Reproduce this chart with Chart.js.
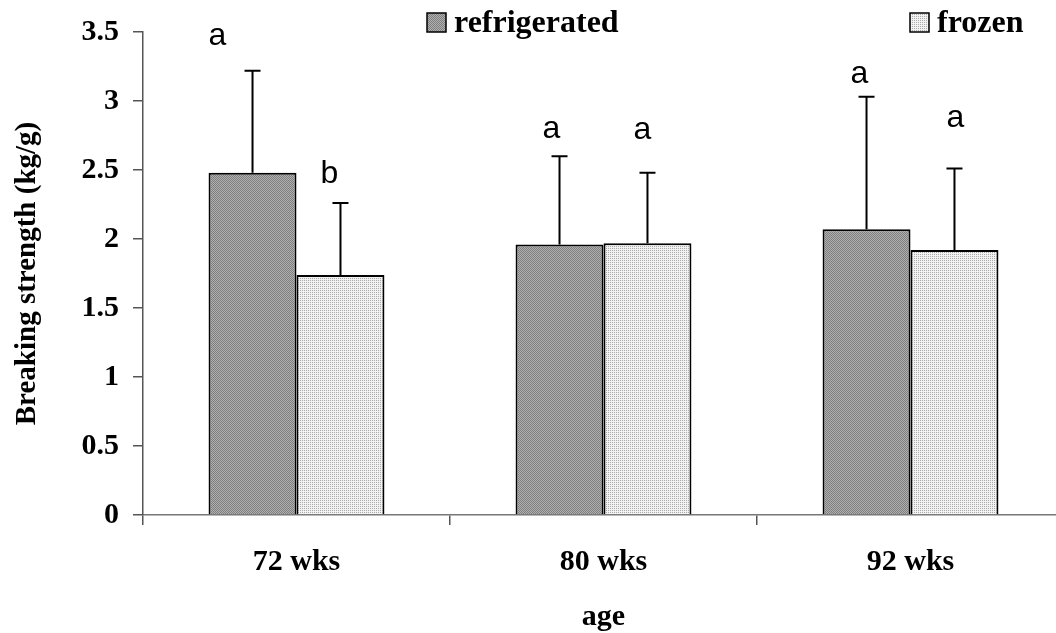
<!DOCTYPE html>
<html>
<head>
<meta charset="utf-8">
<script src="https://cdn.jsdelivr.net/npm/chart.js@4"></script>
<style>
body{margin:0;background:#fff;overflow:hidden}
#wrap{width:1056px;height:633px;overflow:hidden}
</style>
</head>
<body>
<div id="wrap"><canvas id="breaking" width="1070" height="633"></canvas></div>
<script>
var ages = ["72 wks", "80 wks", "92 wks"];
var refrigerated = [2.48, 1.96, 2.07];
var frozen = [1.74, 1.97, 1.92];
// top of the error bar for each mean
var refrigeratedErr = [3.22, 2.60, 3.03];
var frozenErr = [2.26, 2.48, 2.51];
// significance letters
var refrigeratedSig = ["a", "a", "a"];
var frozenSig = ["b", "a", "a"];
var yTicks = [0, 0.5, 1, 1.5, 2, 2.5, 3, 3.5];

var serif = "'Liberation Serif', 'Times New Roman', serif";
var sans = "'Liberation Sans', Arial, sans-serif";

function makePattern(base, dot, cells) {
	var c = document.createElement("canvas");
	c.width = 4; c.height = 4;
	var g = c.getContext("2d");
	g.fillStyle = base;
	g.fillRect(0, 0, 4, 4);
	g.fillStyle = dot;
	cells.forEach(function (p) { g.fillRect(p[0], p[1], 1, 1); });
	return g.createPattern(c, "repeat");
}

var ctx = document.getElementById("breaking").getContext("2d");
var darkFill = makePattern("#b0b0b0", "#7e7e7e", [[0,0],[1,1],[2,2],[3,3],[2,0],[3,1],[0,2],[1,3]]);
var lightFill = makePattern("#f2f2f2", "#aaaaaa", [[0,0],[2,2],[2,0],[0,2]]);

// upper error bars, drawn from the bar top to the stored value
var errorBars = {
	id: "errorBars",
	afterDatasetsDraw: function (chart) {
		var c = chart.ctx, y = chart.scales.y;
		var tops = [refrigeratedErr, frozenErr];
		c.save();
		c.strokeStyle = "#000";
		c.lineWidth = 2;
		chart.data.datasets.forEach(function (ds, i) {
			chart.getDatasetMeta(i).data.forEach(function (bar, j) {
				var yt = y.getPixelForValue(tops[i][j]);
				c.beginPath();
				c.moveTo(bar.x, bar.y);
				c.lineTo(bar.x, yt);
				c.moveTo(bar.x - 8, yt);
				c.lineTo(bar.x + 8, yt);
				c.stroke();
			});
		});
		c.restore();
	}
};

// letters above each error bar
var sigLetters = {
	id: "sigLetters",
	afterDatasetsDraw: function (chart, args, opts) {
		var c = chart.ctx, y = chart.scales.y;
		var letters = [refrigeratedSig, frozenSig];
		var tops = [refrigeratedErr, frozenErr];
		c.save();
		c.font = "32px " + sans;
		c.fillStyle = "#000";
		c.textAlign = "center";
		c.textBaseline = "middle";
		chart.data.datasets.forEach(function (ds, i) {
			chart.getDatasetMeta(i).data.forEach(function (bar, j) {
				var yt = y.getPixelForValue(tops[i][j]);
				c.fillText(letters[i][j], bar.x + opts.dx[i][j], yt - opts.dy[i][j]);
			});
		});
		c.restore();
	}
};

// legend boxes spread across the top
var topLegend = {
	id: "topLegend",
	afterDraw: function (chart, args, opts) {
		var c = chart.ctx;
		c.save();
		c.font = "bold 32px " + serif;
		c.textBaseline = "middle";
		chart.data.datasets.forEach(function (ds, i) {
			var x = opts.x[i];
			c.fillStyle = ds.backgroundColor;
			c.fillRect(x, 13, 19, 19);
			c.strokeStyle = "#000";
			c.lineWidth = 1.5;
			c.strokeRect(x, 13, 19, 19);
			c.fillStyle = "#000";
			c.fillText(ds.label, x + 27, 24);
		});
		c.restore();
	}
};

new Chart(ctx, {
	type: "bar",
	data: {
		labels: ages,
		datasets: [
			{ label: "refrigerated", data: refrigerated, backgroundColor: darkFill, borderColor: "#000", borderWidth: 2 },
			{ label: "frozen", data: frozen, backgroundColor: lightFill, borderColor: "#000", borderWidth: 2 }
		]
	},
	options: {
		responsive: false,
		animation: false,
		layout: { padding: { top: 30, right: 6, left: 5, bottom: 0 } },
		datasets: { bar: { categoryPercentage: 0.573, barPercentage: 1 } },
		plugins: {
			legend: { display: false },
			tooltip: { enabled: false },
			topLegend: { x: [427, 910] },
			sigLetters: {
				dx: [[-35, -8, -7], [-11, -5, 1]],
				dy: [[34, 27, 23], [29, 43, 50]]
			}
		},
		scales: {
			x: {
				grid: { drawOnChartArea: false, tickLength: 10, color: "#555", lineWidth: 1.5 },
				border: { color: "#777", width: 1.5 },
				ticks: { color: "#000", font: { family: serif, size: 30, weight: "bold" }, padding: 19 },
				title: { display: true, text: "age", color: "#000", font: { family: serif, size: 30, weight: "bold" }, padding: { top: 0, bottom: -2 } },
				afterFit: function (s) { s.height = 118; }
			},
			y: {
				min: 0,
				max: 3.5,
				afterBuildTicks: function (s) { s.ticks = yTicks.map(function (v) { return { value: v }; }); },
				grid: { drawOnChartArea: false, tickLength: 10, color: "#555", lineWidth: 1.5 },
				border: { color: "#555", width: 1.5 },
				ticks: {
					color: "#000",
					font: { family: serif, size: 30, weight: "bold" },
					padding: 14,
					callback: function (v) { return String(v); }
				},
				title: { display: true, text: "Breaking strength (kg/g)", color: "#000", font: { family: serif, size: 29, weight: "bold" }, padding: { top: 5, bottom: 0 } },
				afterFit: function (s) { s.width = 138; }
			}
		}
	},
	plugins: [errorBars, sigLetters, topLegend]
});
</script>
</body>
</html>
